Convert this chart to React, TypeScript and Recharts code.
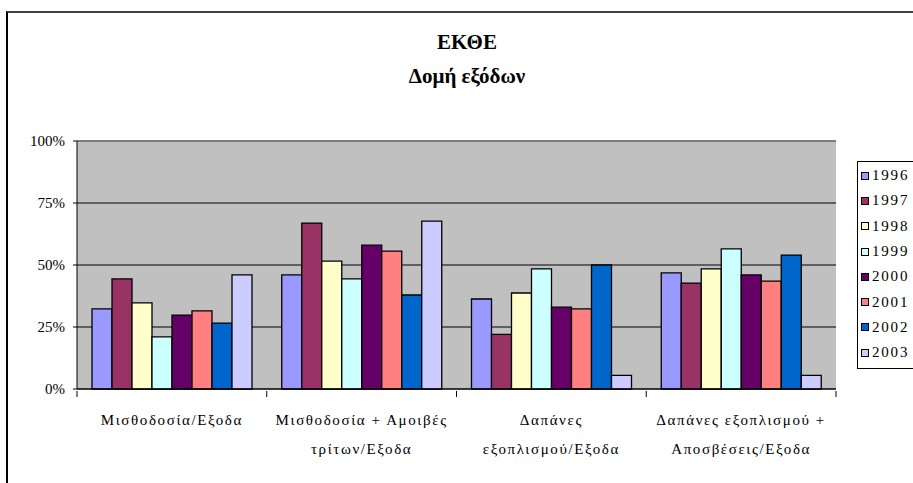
import { BarChart, Bar, XAxis, YAxis, CartesianGrid, ReferenceLine } from "recharts";

const categories = [
  "Μισθοδοσία/Εξοδα",
  "Μισθοδοσία + Αμοιβές τρίτων/Εξοδα",
  "Δαπάνες εξοπλισμού/Εξοδα",
  "Δαπάνες εξοπλισμού + Αποσβέσεις/Εξοδα",
];
const categoryLines = [
  ["Μισθοδοσία/Εξοδα"],
  ["Μισθοδοσία + Αμοιβές", "τρίτων/Εξοδα"],
  ["Δαπάνες", "εξοπλισμού/Εξοδα"],
  ["Δαπάνες εξοπλισμού +", "Αποσβέσεις/Εξοδα"],
];

const years = ["1996", "1997", "1998", "1999", "2000", "2001", "2002", "2003"];
const colors = ["#9999FF", "#993366", "#FFFFCC", "#CCFFFF", "#660066", "#FF8080", "#0066CC", "#CCCCFF"];

const v1996 = [0.323, 0.46, 0.363, 0.468];
const v1997 = [0.444, 0.669, 0.22, 0.427];
const v1998 = [0.347, 0.516, 0.387, 0.484];
const v1999 = [0.21, 0.444, 0.484, 0.565];
const v2000 = [0.298, 0.58, 0.33, 0.46];
const v2001 = [0.315, 0.556, 0.323, 0.435];
const v2002 = [0.266, 0.379, 0.5, 0.54];
const v2003 = [0.46, 0.677, 0.055, 0.055];

const series = [v1996, v1997, v1998, v1999, v2000, v2001, v2002, v2003];
const yTicks = [0, 0.25, 0.5, 0.75, 1];

const data = categories.map((name, i) => {
  const row: Record<string, any> = { name };
  years.forEach((y, j) => {
    row[y] = series[j][i];
  });
  return row;
});

const PLOT_LEFT = 77;
const PLOT_RIGHT = 836;
const BAND = (PLOT_RIGHT - PLOT_LEFT) / categories.length;
const FONT = "Liberation Serif";

// category labels, wrapped by hand, plus the tick marks between categories
const CategoryTick = (props: any) => {
  const { x, y, index } = props;
  const lines = categoryLines[index] || [];
  const last = index === categories.length - 1;
  return (
    <g>
      <line x1={x - BAND / 2} x2={x - BAND / 2} y1={y} y2={y + 6} stroke="#000" />
      {last && <line x1={x + BAND / 2} x2={x + BAND / 2} y1={y} y2={y + 6} stroke="#000" />}
      {lines.map((t, k) => (
        <text
          key={k}
          x={x}
          y={y + 34 + k * 29}
          textAnchor="middle"
          style={{ fontFamily: FONT }}
          fontSize={15}
          letterSpacing={1.6}
          fill="#000"
        >
          {t}
        </text>
      ))}
    </g>
  );
};

const LegendBox = () => (
  <div
    style={{
      position: "absolute",
      left: 857,
      top: 161,
      border: "1px solid #000",
      background: "#fff",
      width: 70,
      height: 208,
      boxSizing: "border-box",
      paddingTop: 1,
      fontFamily: FONT,
    }}
  >
    {years.map((y, i) => (
      <div key={y} style={{ display: "flex", alignItems: "center", height: 25.3 }}>
        <span
          style={{
            display: "inline-block",
            width: 6,
            height: 6,
            border: "1.5px solid #000",
            background: colors[i],
            marginLeft: 3,
            marginRight: 3,
          }}
        />
        <span style={{ fontSize: 15, letterSpacing: 1.8 }}>{y}</span>
      </div>
    ))}
  </div>
);

export default function App() {
  return (
    <div
      style={{
        position: "absolute",
        left: 0,
        top: 0,
        width: 913,
        height: 483,
        overflow: "hidden",
        background: "#fff",
      }}
    >
      <div
        style={{
          position: "absolute",
          left: 6,
          top: 11,
          width: 930,
          height: 500,
          borderTop: "2px solid #404040",
          borderLeft: "2px solid #000",
          boxSizing: "border-box",
        }}
      />
      <svg width={913} height={100} style={{ position: "absolute", left: 0, top: 0 }}>
        <text x={467} y={49} textAnchor="middle" style={{ fontFamily: FONT }} fontWeight="bold" fontSize={21}>
          ΕΚΘΕ
        </text>
        <text x={467} y={83} textAnchor="middle" style={{ fontFamily: FONT }} fontWeight="bold" fontSize={21}>
          Δομή εξόδων
        </text>
      </svg>
      <div style={{ position: "absolute", left: 0, top: 0 }}>
        <BarChart
          width={913}
          height={483}
          data={data}
          margin={{ top: 141, right: 913 - PLOT_RIGHT, left: PLOT_LEFT - 60, bottom: 34 }}
          barCategoryGap={15}
          barGap={0}
        >
          <CartesianGrid vertical={false} fill="#C0C0C0" stroke="#000" strokeOpacity={1} />
          <ReferenceLine y={1} stroke="#808080" strokeWidth={1.5} />
          <XAxis
            dataKey="name"
            height={60}
            tickSize={0}
            tick={<CategoryTick />}
            interval={0}
            axisLine={{ stroke: "#000" }}
          />
          <YAxis
            width={60}
            domain={[0, 1]}
            ticks={yTicks}
            tickFormatter={(v: number) => `${Math.round(v * 100)}%`}
            tickSize={4}
            tickMargin={8}
            axisLine={{ stroke: "#000" }}
            tickLine={{ stroke: "#000" }}
            tick={{ fill: "#000", style: { fontFamily: FONT }, fontSize: 15 }}
          />
          {years.map((y, i) => (
            <Bar
              key={y}
              dataKey={y}
              fill={colors[i]}
              stroke="#000"
              strokeWidth={1.3}
              isAnimationActive={false}
            />
          ))}
        </BarChart>
      </div>
      <LegendBox />
    </div>
  );
}
